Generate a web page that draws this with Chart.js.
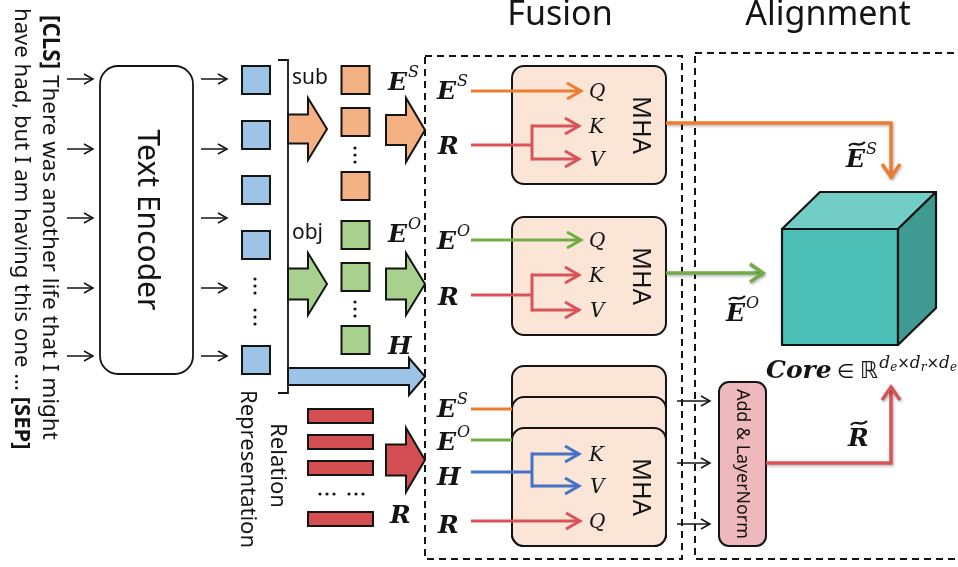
<!DOCTYPE html>
<html>
<head>
<meta charset="utf-8">
<script src="https://cdn.jsdelivr.net/npm/chart.js@4.4.1/dist/chart.umd.min.js"></script>
<style>
html, body { margin: 0; padding: 0; background: #fff; }
#wrap { width: 958px; height: 567px; }
</style>
</head>
<body>
<div id="wrap"><canvas id="diagram" width="958" height="567"></canvas></div>
<script>
// diagram content, in picture units (x to the right, y downwards)
const stageTitles = ['Fusion', 'Alignment'];
const inputLines = [
    [['[CLS]', true], [' There was another life that I might', false]],
    [['have had, but I am having this one ... ', false], ['[SEP]', true]],
];
const encoderRows = [79, 149, 218, 288, 356];
const tokenRows = [80, 135, 190, 245, 360];
const subjectRows = [80, 122, 186];
const objectRows = [235, 277, 340];
const relationRows = [416, 442, 468, 519];
const spanLabels = ['sub', 'obj'];
const mhaTops = [66, 217, 428];
const mhaQueryRows = [91, 240, 521];
const mhaKeyRows = [126, 275, 454];
const mhaValueRows = [159, 310, 486];
const mhaSourceRows = [145, 295, 472];
const residualRows = [401, 463, 524];

const sans = '"Noto Sans", "DejaVu Sans", sans-serif';
const serif = '"DejaVu Serif", "Liberation Serif", serif';
const colors = {
    ink: '#141414',
    blue: '#9DC3E6',
    orange: '#F4B183',
    green: '#A9D18E',
    red: '#D44F52',
    lineOrange: '#ED7D31',
    lineGreen: '#70AD47',
    lineRed: '#D9545A',
    lineBlue: '#4472C4',
    mha: '#FBE5D6',
    norm: '#EFB8BC',
    cubeFront: '#4CC0B7',
    cubeTop: '#72CDC6',
    cubeSide: '#3F9A92',
};

let X, Y;

function roundRect(ctx, x0, y0, x1, y1, r, fill, lw) {
    ctx.beginPath();
    ctx.roundRect(X(x0), Y(y0), X(x1) - X(x0), Y(y1) - Y(y0), r);
    if (fill) {
        ctx.fillStyle = fill;
        ctx.fill();
    }
    ctx.lineWidth = lw || 2;
    ctx.strokeStyle = colors.ink;
    ctx.stroke();
}

function chevron(ctx, tip, from, back, half) {
    const ang = Math.atan2(tip[1] - from[1], tip[0] - from[0]);
    const c = Math.cos(ang), s = Math.sin(ang);
    ctx.beginPath();
    ctx.moveTo(X(tip[0] - back * c - half * s), Y(tip[1] - back * s + half * c));
    ctx.lineTo(X(tip[0]), Y(tip[1]));
    ctx.lineTo(X(tip[0] - back * c + half * s), Y(tip[1] - back * s - half * c));
    ctx.stroke();
}

function flow(ctx, pts, color, width, head) {
    ctx.strokeStyle = color;
    ctx.lineWidth = width;
    ctx.lineJoin = 'miter';
    ctx.lineCap = 'butt';
    ctx.beginPath();
    pts.forEach((p, i) => (i ? ctx.lineTo(X(p[0]), Y(p[1])) : ctx.moveTo(X(p[0]), Y(p[1]))));
    ctx.stroke();
    if (head) {
        chevron(ctx, pts[pts.length - 1], pts[pts.length - 2], head[0], head[1]);
    }
}

function blockArrow(ctx, x0, xh, xt, cy, sh, hh, fill) {
    ctx.beginPath();
    ctx.moveTo(X(x0), Y(cy - sh));
    ctx.lineTo(X(xh), Y(cy - sh));
    ctx.lineTo(X(xh), Y(cy - hh));
    ctx.lineTo(X(xt), Y(cy));
    ctx.lineTo(X(xh), Y(cy + hh));
    ctx.lineTo(X(xh), Y(cy + sh));
    ctx.lineTo(X(x0), Y(cy + sh));
    ctx.closePath();
    ctx.fillStyle = fill;
    ctx.fill();
    ctx.lineWidth = 2;
    ctx.lineJoin = 'miter';
    ctx.strokeStyle = colors.ink;
    ctx.stroke();
}

function rotText(ctx, parts, cx, y0, length, mid) {
    let w = 0;
    parts.forEach((p) => {
        ctx.font = (p[1] ? 'bold ' : '') + '20px ' + sans;
        w += ctx.measureText(p[0]).width;
    });
    const size = (20 * length) / w;
    ctx.save();
    ctx.translate(X(cx), Y(mid ? y0 - length / 2 : y0));
    ctx.rotate(Math.PI / 2);
    ctx.textBaseline = 'middle';
    ctx.textAlign = 'left';
    ctx.fillStyle = colors.ink;
    let off = 0;
    parts.forEach((p) => {
        ctx.font = (p[1] ? 'bold ' : '') + size.toFixed(2) + 'px ' + sans;
        ctx.fillText(p[0], off, 0);
        off += ctx.measureText(p[0]).width;
    });
    ctx.restore();
}

function mathLabel(ctx, x, base, main, sup, tilde) {
    ctx.fillStyle = colors.ink;
    ctx.textAlign = 'left';
    ctx.textBaseline = 'alphabetic';
    ctx.font = 'italic bold 25px ' + serif;
    ctx.fillText(main, X(x), Y(base));
    const w = ctx.measureText(main).width;
    if (sup) {
        ctx.font = 'italic 16px ' + serif;
        ctx.fillText(sup, X(x) + w + 1, Y(base - 13));
    }
    if (tilde) {
        const t = Y(base - 23);
        ctx.strokeStyle = colors.ink;
        ctx.lineWidth = 2.2;
        ctx.beginPath();
        ctx.moveTo(X(x + 3), t + 2);
        ctx.bezierCurveTo(X(x + 8), t - 4.5, X(x + 12), t + 5, X(x + 19), t - 2);
        ctx.stroke();
    }
}

function italic(ctx, text, x, base, size) {
    ctx.fillStyle = colors.ink;
    ctx.textAlign = 'left';
    ctx.textBaseline = 'alphabetic';
    ctx.font = 'italic ' + size + 'px ' + serif;
    ctx.fillText(text, X(x), Y(base));
    return ctx.measureText(text).width;
}

function dots(ctx, pts) {
    ctx.fillStyle = colors.ink;
    pts.forEach((p) => {
        ctx.beginPath();
        ctx.arc(X(p[0]), Y(p[1]), 1.6, 0, Math.PI * 2);
        ctx.fill();
    });
}

const diagramPlugin = {
    id: 'diagram',
    beforeDatasetsDraw(chart) {
        const ctx = chart.ctx;
        X = (v) => chart.scales.x.getPixelForValue(v);
        Y = (v) => chart.scales.y.getPixelForValue(v);
        ctx.save();

        // stage frames
        ctx.setLineDash([7, 5]);
        ctx.lineWidth = 2;
        ctx.strokeStyle = colors.ink;
        ctx.strokeRect(X(425), Y(56), X(682) - X(425), Y(559) - Y(56));
        ctx.strokeRect(X(695), Y(53), X(962) - X(695), Y(559) - Y(53));
        ctx.setLineDash([]);

        ctx.fillStyle = colors.ink;
        ctx.textAlign = 'center';
        ctx.textBaseline = 'alphabetic';
        ctx.font = '34px ' + sans;
        ctx.fillText(stageTitles[0], X(560), Y(25));
        ctx.fillText(stageTitles[1], X(828), Y(25));

        // input sentence and encoder
        rotText(ctx, inputLines[0], 49, 15, 425);
        rotText(ctx, inputLines[1], 21, 8, 442);
        encoderRows.forEach((r) => {
            flow(ctx, [[67, r], [93, r]], colors.ink, 1.5, [9, 5]);
            flow(ctx, [[201, r], [227, r]], colors.ink, 1.5, [9, 5]);
        });
        roundRect(ctx, 100, 66, 193, 374, 18, null, 1.8);
        rotText(ctx, [['Text Encoder', false]], 147, 220, 181, true);

        dots(ctx, [[255, 279], [255, 286], [255, 293], [255, 310], [255, 317], [255, 324]]);

        // bracket over the token column
        ctx.strokeStyle = colors.ink;
        ctx.lineWidth = 1.8;
        ctx.beginPath();
        ctx.moveTo(X(278), Y(60));
        ctx.lineTo(X(288), Y(60));
        ctx.lineTo(X(288), Y(393));
        ctx.lineTo(X(278), Y(393));
        ctx.stroke();
        rotText(ctx, [['Relation', false]], 277, 423, 85);
        rotText(ctx, [['Representation', false]], 247, 390, 158);

        ctx.fillStyle = colors.ink;
        ctx.textAlign = 'left';
        ctx.textBaseline = 'middle';
        ctx.font = '21px ' + sans;
        ctx.fillText(spanLabels[0], X(292), Y(78));
        ctx.fillText(spanLabels[1], X(292), Y(233));

        blockArrow(ctx, 288, 308, 327, 129, 14.5, 31, colors.orange);
        blockArrow(ctx, 288, 308, 327, 284, 15.5, 31, colors.green);
        blockArrow(ctx, 386, 406, 425, 130, 15, 32, colors.orange);
        blockArrow(ctx, 386, 406, 425, 284, 15.5, 31, colors.green);
        blockArrow(ctx, 386, 406, 425, 460, 15.5, 32, colors.red);
        blockArrow(ctx, 288, 409, 425, 376.5, 8.5, 18.5, colors.blue);

        dots(ctx, [[355, 148], [355, 155], [355, 162], [355, 302], [355, 309], [355, 316]]);

        relationRows.forEach((r) => {
            ctx.fillStyle = colors.red;
            ctx.fillRect(X(308), Y(r - 7), X(373) - X(308), Y(r + 7) - Y(r - 7));
            ctx.lineWidth = 2;
            ctx.strokeStyle = colors.ink;
            ctx.strokeRect(X(308), Y(r - 7), X(373) - X(308), Y(r + 7) - Y(r - 7));
        });
        dots(ctx, [[320, 494], [327, 494], [334, 494], [349, 494], [356, 494], [363, 494]]);

        mathLabel(ctx, 388, 90, 'E', 'S');
        mathLabel(ctx, 388, 242, 'E', 'O');
        mathLabel(ctx, 388, 354, 'H');
        mathLabel(ctx, 390, 523, 'R');

        // fusion blocks
        roundRect(ctx, 512, mhaTops[0], 666, mhaTops[0] + 118, 12, colors.mha, 2);
        roundRect(ctx, 512, mhaTops[1], 666, mhaTops[1] + 118, 12, colors.mha, 2);
        roundRect(ctx, 512, 366, 666, 546, 12, colors.mha, 2);
        roundRect(ctx, 512, 397, 666, 546, 12, colors.mha, 2);
        roundRect(ctx, 512, 428, 666, 546, 12, colors.mha, 2);
        mhaTops.forEach((t) => rotText(ctx, [['MHA', false]], 640, t + 59, 58, true));

        flow(ctx, [[471, mhaQueryRows[0]], [581, mhaQueryRows[0]]], colors.lineOrange, 3, [14, 8]);
        flow(ctx, [[471, mhaQueryRows[1]], [581, mhaQueryRows[1]]], colors.lineGreen, 3, [14, 8]);
        flow(ctx, [[471, mhaQueryRows[2]], [580, mhaQueryRows[2]]], colors.lineRed, 3, [14, 8]);
        flow(ctx, [[471, 409], [512, 409]], colors.lineOrange, 3);
        flow(ctx, [[471, 440], [512, 440]], colors.lineGreen, 3);
        [colors.lineRed, colors.lineRed, colors.lineBlue].forEach((c, i) => {
            const s = mhaSourceRows[i], k = mhaKeyRows[i], v = mhaValueRows[i];
            flow(ctx, [[471, s], [532, s]], c, 3);
            flow(ctx, [[532, k - 1.5], [532, v + 1.5]], c, 3);
            flow(ctx, [[532, k], [579, k]], c, 3, [14, 8]);
            flow(ctx, [[532, v], [579, v]], c, 3, [14, 8]);
        });

        mathLabel(ctx, 437, 99, 'E', 'S');
        mathLabel(ctx, 438, 154, 'R');
        mathLabel(ctx, 437, 249, 'E', 'O');
        mathLabel(ctx, 438, 305, 'R');
        mathLabel(ctx, 437, 417, 'E', 'S');
        mathLabel(ctx, 437, 450, 'E', 'O');
        mathLabel(ctx, 437, 485, 'H');
        mathLabel(ctx, 438, 533, 'R');
        for (let i = 0; i < 3; i++) {
            italic(ctx, 'Q', 589, mhaQueryRows[i] + 7, 20);
            italic(ctx, 'K', 589, mhaKeyRows[i] + 7, 20);
            italic(ctx, 'V', 590, mhaValueRows[i] + 7, 20);
        }

        // alignment
        residualRows.forEach((r) => flow(ctx, [[677, r], [710, r]], colors.ink, 1.5, [9, 5]));
        roundRect(ctx, 719, 382, 766, 546, 10, colors.norm, 2);
        rotText(ctx, [['Add & LayerNorm', false]], 742, 464, 150, true);

        ctx.shadowColor = 'rgba(0,0,0,0.3)';
        ctx.shadowBlur = 3;
        ctx.shadowOffsetX = 1;
        ctx.shadowOffsetY = 1.5;
        flow(ctx, [[666, 123], [891, 123], [891, 177]], colors.lineOrange, 3.5, [13, 9]);
        flow(ctx, [[666, 273], [763, 273]], colors.lineGreen, 3.5, [13, 9]);
        flow(ctx, [[766, 463], [891, 463], [891, 387]], colors.lineRed, 3.5, [13, 9]);
        ctx.shadowColor = 'transparent';

        const face = (pts, fill) => {
            ctx.beginPath();
            pts.forEach((p, i) => (i ? ctx.lineTo(X(p[0]), Y(p[1])) : ctx.moveTo(X(p[0]), Y(p[1]))));
            ctx.closePath();
            ctx.fillStyle = fill;
            ctx.fill();
            ctx.lineWidth = 2.2;
            ctx.lineJoin = 'round';
            ctx.strokeStyle = colors.ink;
            ctx.stroke();
        };
        face([[782, 229], [898, 229], [898, 345], [782, 345]], colors.cubeFront);
        face([[782, 229], [820, 192], [936, 192], [898, 229]], colors.cubeTop);
        face([[898, 229], [936, 192], [936, 308], [898, 345]], colors.cubeSide);

        mathLabel(ctx, 846, 167, 'E', 'S', true);
        mathLabel(ctx, 726, 321, 'E', 'O', true);
        mathLabel(ctx, 848, 446, 'R', null, true);

        // Core ∈ R^{de x dr x de}
        ctx.fillStyle = colors.ink;
        ctx.textAlign = 'left';
        ctx.textBaseline = 'alphabetic';
        ctx.font = 'italic bold 25px ' + serif;
        let cx = X(766);
        ctx.fillText('Core', cx, Y(378));
        cx += ctx.measureText('Core').width + 5;
        ctx.font = '20px "DejaVu Sans", sans-serif';
        ctx.fillText('\u2208', cx, Y(378));
        cx += ctx.measureText('\u2208').width + 6;
        ctx.font = '23px "DejaVu Sans", sans-serif';
        ctx.fillText('\u211D', cx, Y(378));
        cx += ctx.measureText('\u211D').width + 1;
        const supParts = [['d', 'e'], ['\u00D7'], ['d', 'r'], ['\u00D7'], ['d', 'e']];
        supParts.forEach((p) => {
            if (p.length === 2) {
                ctx.font = 'italic 17px ' + serif;
                ctx.fillText(p[0], cx, Y(368));
                cx += ctx.measureText(p[0]).width;
                ctx.font = 'italic 12px ' + serif;
                ctx.fillText(p[1], cx, Y(371));
                cx += ctx.measureText(p[1]).width;
            } else {
                ctx.font = '15px "DejaVu Sans", sans-serif';
                ctx.fillText(p[0], cx, Y(368));
                cx += ctx.measureText(p[0]).width;
            }
        });

        ctx.restore();
    },
};

const tokenPoint = (x) => (r) => ({ x: x, y: r });
const squareRadius = 28 / Math.SQRT2;

new Chart(document.getElementById('diagram'), {
    type: 'scatter',
    data: {
        datasets: [
            { label: 'tokens', data: tokenRows.map(tokenPoint(256)), backgroundColor: colors.blue },
            { label: 'subject', data: subjectRows.map(tokenPoint(355.5)), backgroundColor: colors.orange },
            { label: 'object', data: objectRows.map(tokenPoint(355.5)), backgroundColor: colors.green },
        ].map((d) => ({
            ...d,
            pointStyle: 'rect',
            pointRadius: squareRadius,
            borderColor: colors.ink,
            borderWidth: 2,
        })),
    },
    options: {
        responsive: false,
        animation: false,
        events: [],
        layout: { padding: 0, autoPadding: false },
        scales: {
            x: { type: 'linear', min: 0, max: 958, display: false },
            y: { type: 'linear', min: 0, max: 567, reverse: true, display: false },
        },
        plugins: {
            legend: { display: false },
            tooltip: { enabled: false },
        },
    },
    plugins: [diagramPlugin],
});
</script>
</body>
</html>
